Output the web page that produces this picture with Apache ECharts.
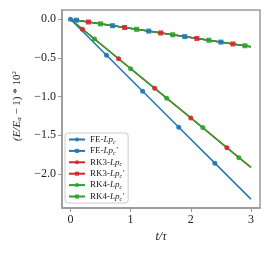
<!DOCTYPE html>
<html><head><meta charset="utf-8">
<script src="https://cdn.jsdelivr.net/npm/echarts@6/dist/echarts.min.js"></script>
<style>html,body{margin:0;padding:0;background:#fff}#c{width:270px;height:255px}</style>
</head><body><div id="c"></div>
<script>
// Data
const xTicks = [0, 1, 2, 3];
const yTicks = [0, -0.5, -1.0, -1.5, -2.0];

const feT = [0, 0.6, 1.2, 1.8, 2.4, 3.0];
const feY = [0, -0.465, -0.93, -1.395, -1.86, -2.325];
const feMarks = [0, 1, 2, 3, 4];

const fePT = [0, 0.1, 0.7, 1.3, 1.9, 2.5, 3.0];
const fePY = [0, -0.012, -0.083, -0.153, -0.224, -0.295, -0.354];
const fePMarks = [1, 2, 3, 4, 5];

const rk3T = [0, 0.2, 0.8, 1.4, 2.0, 2.6, 3.0];
const rk3Y = [0, -0.128, -0.51, -0.893, -1.276, -1.66, -1.914];
const rk3Marks = [1, 2, 3, 4, 5];

const rk3PT = [0, 0.3, 0.9, 1.5, 2.1, 2.7, 3.0];
const rk3PY = [0, -0.035, -0.106, -0.177, -0.248, -0.319, -0.354];
const rk3PMarks = [1, 2, 3, 4, 5];

const rk4T = [0, 0.4, 1.0, 1.6, 2.2, 2.8, 3.0];
const rk4Y = [0, -0.255, -0.638, -1.02, -1.40, -1.79, -1.914];
const rk4Marks = [1, 2, 3, 4, 5];

const rk4PT = [0, 0.5, 1.1, 1.7, 2.3, 2.9, 3.0];
const rk4PY = [0, -0.059, -0.13, -0.2, -0.271, -0.342, -0.354];
const rk4PMarks = [1, 2, 3, 4, 5];

const names = ['FE-Lpc', "FE-Lpc'", 'RK3-Lpc', "RK3-Lpc'", 'RK4-Lpc', "RK4-Lpc'"];
const legendRich = {
  'FE-Lpc': '{n|FE-}{i|Lp}{s|c}',
  "FE-Lpc'": "{n|FE-}{i|Lp}{s|c}{i|′}",
  'RK3-Lpc': '{n|RK3-}{i|Lp}{s|c}',
  "RK3-Lpc'": "{n|RK3-}{i|Lp}{s|c}{i|′}",
  'RK4-Lpc': '{n|RK4-}{i|Lp}{s|c}',
  "RK4-Lpc'": "{n|RK4-}{i|Lp}{s|c}{i|′}"
};

const BLUE = '#1f77b4', RED = '#d62728', GREEN = '#2ca02c';

function mk(name, ts, ys, marks, color, symbol) {
  const data = ts.map((t, i) => {
    const item = { value: [t, ys[i]] };
    if (marks.indexOf(i) < 0) item.symbol = 'none';
    return item;
  });
  return {
    name, type: 'line', data, symbol, symbolSize: 5,
    showSymbol: true, showAllSymbol: true,
    lineStyle: { color, width: 1.5 },
    itemStyle: { color, opacity: 0.9 },
    color, animation: false, emphasis: { disabled: true }
  };
}

const chart = echarts.init(document.getElementById('c'), null, { renderer: 'canvas' });
const serif = 'Liberation Serif';
chart.setOption({
  animation: false,
  grid: { left: 62, right: 10, top: 10, bottom: 47, show: true, borderColor: '#999', borderWidth: 1.5, backgroundColor: 'transparent' },
  xAxis: {
    type: 'value', min: -0.14, max: 3.15,
    name: '{i|t/τ}', nameLocation: 'middle', nameGap: 23,
    nameTextStyle: { rich: { i: { fontFamily: serif, fontStyle: 'italic', fontSize: 12, color: '#222' } } },
    axisLine: { show: true, onZero: false, lineStyle: { color: '#999', width: 1.5 } },
    axisTick: { show: true, length: 4, lineStyle: { color: '#999' }, customValues: xTicks },
    axisLabel: { customValues: xTicks, fontFamily: serif, fontSize: 12, color: '#222', margin: 6, formatter: v => String(v) },
    splitLine: { show: false }
  },
  yAxis: {
    type: 'value', min: -2.44, max: 0.12,
    name: '{i|(E/E}{s|a}{n| − 1) * 10}{p|2}', nameLocation: 'middle', nameGap: 39, nameRotate: 90,
    nameTextStyle: { padding: [0, 0, 0, 6], rich: {
      i: { fontFamily: serif, fontStyle: 'italic', fontSize: 11, color: '#222' },
      n: { fontFamily: serif, fontSize: 11, color: '#222' },
      s: { fontFamily: serif, fontStyle: 'italic', fontSize: 7, color: '#222', verticalAlign: 'bottom', padding: [5, 0, 0, 0] },
      p: { fontFamily: serif, fontSize: 7, color: '#222', verticalAlign: 'top', padding: [0, 0, 5, 0] }
    } },
    axisLine: { show: true, onZero: false, lineStyle: { color: '#999', width: 1.5 } },
    axisTick: { show: true, length: 4, lineStyle: { color: '#999' }, customValues: yTicks },
    axisLabel: { customValues: yTicks, fontFamily: serif, fontSize: 12, color: '#222', margin: 6,
      formatter: v => (v < 0 ? '−' : '') + Math.abs(v).toFixed(1) },
    splitLine: { show: false }
  },
  legend: {
    orient: 'vertical', left: 65, top: 133,
    data: names,
    itemWidth: 16, itemHeight: 5, itemGap: 0.4,
    backgroundColor: '#fff', borderColor: '#ccc', borderWidth: 1, borderRadius: 3,
    padding: [1, 4, 1, 3],
    formatter: n => legendRich[n],
    textStyle: { fontFamily: serif, fontSize: 9, color: '#222', lineHeight: 11, rich: {
      n: { fontFamily: serif, fontSize: 9, color: '#222', lineHeight: 11 },
      i: { fontFamily: serif, fontStyle: 'italic', fontSize: 9, color: '#222', lineHeight: 11 },
      s: { fontFamily: serif, fontStyle: 'italic', fontSize: 6, color: '#222', lineHeight: 11, verticalAlign: 'bottom', padding: [3, 0, 0, 0] }
    } }
  },
  series: [
    mk(names[0], feT, feY, feMarks, BLUE, 'circle'),
    mk(names[1], fePT, fePY, fePMarks, BLUE, 'rect'),
    mk(names[2], rk3T, rk3Y, rk3Marks, RED, 'circle'),
    mk(names[3], rk3PT, rk3PY, rk3PMarks, RED, 'rect'),
    mk(names[4], rk4T, rk4Y, rk4Marks, GREEN, 'circle'),
    mk(names[5], rk4PT, rk4PY, rk4PMarks, GREEN, 'rect')
  ]
});
</script></body></html>
